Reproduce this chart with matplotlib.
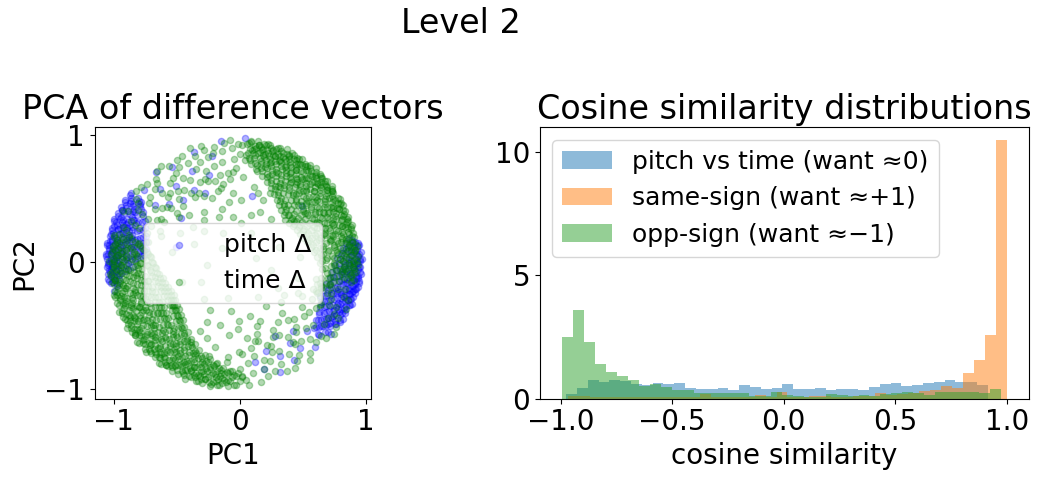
import numpy as np
import matplotlib
matplotlib.use("Agg")
import matplotlib.pyplot as plt

# ---- PCA scatter, points as (angle in deg, radius)
# measured from the centre of the ring
ring_cx, ring_cy = -0.045, -0.01

pitch_left = [
    (150, 0.95), (153, 0.90), (155, 0.98), (157, 0.86), (159, 0.94), (161, 0.99), (162, 0.89),
    (164, 0.96), (165, 0.92), (167, 1.00), (168, 0.87), (169, 0.95), (170, 0.98), (171, 0.91),
    (172, 1.00), (173, 0.94), (174, 0.97), (175, 0.89), (176, 1.00), (177, 0.93), (178, 0.98),
    (179, 0.95), (180, 1.00), (181, 0.91), (182, 0.97), (183, 0.99), (184, 0.94), (185, 1.00),
    (186, 0.96), (188, 0.92), (189, 0.99), (191, 0.95), (193, 0.98), (166, 0.84), (160, 0.91),
    (178, 0.86), (171, 0.83), (158, 0.97), (163, 1.00), (176, 0.95),
]
# dense left band of pitch points, angle -> radii
pitch_left_rows = {
    146: [0.92, 0.99], 148: [0.88, 0.96], 150: [0.85, 0.93, 1.00], 152: [0.90, 0.97],
    154: [0.86, 0.94, 1.00], 156: [0.80, 0.89, 0.96], 158: [0.84, 0.92, 0.99],
    160: [0.77, 0.88, 0.95, 1.01], 162: [0.81, 0.85, 0.92, 0.98], 164: [0.75, 0.89, 0.96, 1.01],
    166: [0.79, 0.86, 0.93, 0.99], 168: [0.74, 0.83, 0.90, 0.96, 1.01],
    170: [0.78, 0.87, 0.94, 1.00], 172: [0.73, 0.82, 0.91, 0.97, 1.02],
    174: [0.77, 0.88, 0.95, 1.00], 176: [0.74, 0.83, 0.92, 0.98, 1.02],
    178: [0.79, 0.89, 0.95, 1.01], 180: [0.84, 0.93, 0.99], 182: [0.80, 0.90, 0.96, 1.01],
    184: [0.87, 0.94, 0.99], 186: [0.92, 0.98], 188: [0.96, 1.00], 190: [0.94],
}
pitch_left_rows_b = {
    147: [0.90, 0.98], 149: [0.87, 0.95], 151: [0.83, 0.92, 0.99], 153: [0.81, 0.88, 0.96],
    155: [0.78, 0.91, 0.98], 157: [0.83, 0.87, 1.00], 159: [0.76, 0.90, 0.97],
    161: [0.80, 0.86, 0.93, 1.01], 163: [0.73, 0.87, 0.95], 165: [0.77, 0.84, 0.91, 1.00],
    167: [0.72, 0.81, 0.88, 0.97], 169: [0.76, 0.85, 0.92, 0.99],
    171: [0.71, 0.80, 0.89, 0.96, 1.02], 173: [0.75, 0.86, 0.93, 1.00],
    175: [0.72, 0.81, 0.90, 0.97], 177: [0.77, 0.86, 0.94, 1.02], 179: [0.82, 0.91, 0.98],
    181: [0.86, 0.94, 1.00], 183: [0.84, 0.92, 0.98], 185: [0.90, 0.97], 187: [0.94, 1.01],
    189: [0.97],
}
pitch_upper = [
    (102, 0.86), (106, 0.72), (110, 0.93), (115, 0.80), (119, 0.66), (123, 0.90), (127, 0.76),
    (131, 0.95), (135, 0.83), (138, 0.70), (141, 0.92), (144, 0.78), (147, 0.88), (113, 0.60),
    (129, 0.64), (96, 0.97), (85, 0.99), (140, 0.55), (75, 0.55), (165, 0.48),
]
pitch_right = [
    (10, 0.96), (8, 0.99), (6, 0.93), (4, 0.97), (2, 1.00), (1, 0.94), (0, 0.98), (-1, 0.91),
    (-2, 0.99), (-3, 0.95), (-4, 1.00), (-5, 0.92), (-6, 0.97), (-7, 0.99), (-8, 0.94), (-9, 1.00),
    (-10, 0.90), (-11, 0.96), (-12, 0.98), (-13, 0.93), (-14, 0.99), (-15, 0.95), (-16, 0.88),
    (-17, 0.97), (-18, 0.93), (-20, 0.98), (-21, 0.90), (-23, 0.95), (-25, 0.92), (-27, 0.97),
    (-29, 0.89), (-31, 0.94), (-33, 0.91), (-36, 0.95), (-5, 0.86), (-15, 0.84),
]
pitch_right_rows = {
    12: [0.93], 10: [0.90, 0.97], 8: [0.87, 0.94, 1.00], 6: [0.91, 0.98],
    4: [0.85, 0.93, 0.99], 2: [0.89, 0.96, 1.01], 0: [0.83, 0.91, 0.97], -2: [0.87, 0.94, 1.00],
    -4: [0.81, 0.89, 0.96], -6: [0.85, 0.92, 0.99], -8: [0.79, 0.88, 0.95, 1.00],
    -10: [0.84, 0.91, 0.97], -12: [0.78, 0.86, 0.93, 0.99], -14: [0.82, 0.90, 0.96],
    -16: [0.77, 0.85, 0.92, 0.98], -18: [0.81, 0.89, 0.95], -20: [0.76, 0.84, 0.91, 0.97],
    -22: [0.80, 0.88, 0.94], -24: [0.75, 0.83, 0.90, 0.96], -26: [0.79, 0.87, 0.93],
    -28: [0.82, 0.89, 0.95], -30: [0.78, 0.86, 0.92], -32: [0.84, 0.90], -34: [0.80, 0.88],
    -36: [0.85, 0.92], -38: [0.82], -40: [0.87],
}
pitch_right_rows_b = {
    11: [0.95], 9: [0.92, 0.99], 7: [0.89, 0.96], 5: [0.86, 0.95, 1.01], 3: [0.82, 0.91, 0.98],
    1: [0.86, 0.93, 1.00], -1: [0.80, 0.88, 0.95], -3: [0.84, 0.90, 0.98],
    -5: [0.78, 0.87, 0.94, 1.01], -7: [0.82, 0.91, 0.97], -9: [0.77, 0.86, 0.92, 0.98],
    -11: [0.80, 0.88, 0.95, 1.00], -13: [0.75, 0.84, 0.91, 0.97], -15: [0.79, 0.87, 0.94],
    -17: [0.74, 0.82, 0.90, 0.96], -19: [0.78, 0.86, 0.93, 0.99], -21: [0.73, 0.81, 0.88, 0.95],
    -23: [0.77, 0.85, 0.92], -25: [0.80, 0.87, 0.94], -27: [0.76, 0.84, 0.91],
    -29: [0.81, 0.88, 0.96], -31: [0.78, 0.85, 0.93], -33: [0.82, 0.89], -35: [0.79, 0.86],
    -37: [0.84, 0.90], -39: [0.81],
}
pitch_lower = [
    (-40, 0.88), (-43, 0.79), (-46, 0.92), (-49, 0.71), (-52, 0.85), (-55, 0.77), (-58, 0.90),
    (-61, 0.66), (-64, 0.82), (-67, 0.93), (-70, 0.74), (-74, 0.87), (-78, 0.80), (40, 0.70),
]

time_upper_right = [
    (-6, 0.93), (-4, 0.86), (-3, 0.95), (-1, 0.79), (0, 0.91), (1, 0.97), (2, 0.84), (3, 0.74),
    (4, 0.93), (5, 0.88), (6, 0.96), (7, 0.81), (8, 0.91), (9, 0.71), (10, 0.95), (11, 0.86),
    (12, 0.92), (13, 0.78), (14, 0.97), (15, 0.89), (16, 0.83), (17, 0.94), (18, 0.75), (19, 0.90),
    (20, 0.96), (21, 0.85), (22, 0.92), (23, 0.80), (24, 0.95), (25, 0.88), (26, 0.72), (27, 0.93),
    (28, 0.84), (29, 0.97), (30, 0.90), (31, 0.78), (32, 0.94), (33, 0.86), (34, 0.91), (35, 0.69),
    (36, 0.96), (37, 0.82), (38, 0.93), (39, 0.88), (40, 0.76), (41, 0.95), (42, 0.85), (43, 0.91),
    (44, 0.97), (45, 0.80), (46, 0.89), (47, 0.94), (48, 0.73), (49, 0.92), (50, 0.86), (51, 0.96),
    (52, 0.81), (53, 0.90), (54, 0.95), (55, 0.77), (56, 0.88), (57, 0.93), (58, 0.84), (59, 0.97),
    (60, 0.70), (61, 0.91), (62, 0.86), (63, 0.95), (64, 0.79), (65, 0.92), (66, 0.88), (67, 0.96),
    (68, 0.74), (69, 0.90), (70, 0.85), (71, 0.94), (72, 0.80), (73, 0.97), (74, 0.89), (75, 0.83),
    (76, 0.93), (77, 0.76), (78, 0.95), (79, 0.87), (80, 0.91), (82, 0.96), (84, 0.82), (86, 0.93),
]
time_upper_right_rows = {
    -8: [0.80, 0.90, 0.96], -6: [0.74, 0.86], -4: [0.70, 0.82, 0.90, 0.97], -2: [0.77, 0.87, 0.94],
    0: [0.68, 0.79, 0.88, 0.95], 2: [0.73, 0.84, 0.91, 0.97], 4: [0.66, 0.78, 0.87, 0.94],
    6: [0.71, 0.82, 0.90, 0.96], 8: [0.64, 0.76, 0.85, 0.93, 0.98], 10: [0.69, 0.80, 0.89, 0.95],
    12: [0.62, 0.74, 0.83, 0.91, 0.97], 14: [0.67, 0.78, 0.87, 0.94],
    16: [0.60, 0.72, 0.81, 0.89, 0.96], 18: [0.65, 0.76, 0.85, 0.92, 0.98],
    20: [0.58, 0.70, 0.80, 0.88, 0.95], 22: [0.63, 0.75, 0.84, 0.91, 0.97],
    24: [0.57, 0.69, 0.78, 0.86, 0.93], 26: [0.62, 0.73, 0.82, 0.90, 0.96],
    28: [0.56, 0.67, 0.77, 0.85, 0.92, 0.98], 30: [0.60, 0.71, 0.81, 0.89, 0.95],
    32: [0.55, 0.66, 0.76, 0.84, 0.91, 0.97], 34: [0.59, 0.70, 0.79, 0.87, 0.94],
    36: [0.54, 0.65, 0.75, 0.83, 0.90, 0.96], 38: [0.58, 0.69, 0.78, 0.86, 0.93, 0.98],
    40: [0.53, 0.64, 0.74, 0.82, 0.89, 0.95], 42: [0.57, 0.68, 0.77, 0.85, 0.92, 0.97],
    44: [0.55, 0.66, 0.76, 0.84, 0.91, 0.96], 46: [0.59, 0.70, 0.79, 0.87, 0.93, 0.98],
    48: [0.56, 0.67, 0.77, 0.85, 0.92, 0.97], 50: [0.61, 0.72, 0.81, 0.88, 0.95],
    52: [0.58, 0.69, 0.79, 0.86, 0.93, 0.98], 54: [0.63, 0.74, 0.83, 0.90, 0.96],
    56: [0.60, 0.71, 0.80, 0.88, 0.94], 58: [0.66, 0.76, 0.85, 0.92, 0.97],
    60: [0.63, 0.73, 0.82, 0.89, 0.95], 62: [0.69, 0.79, 0.87, 0.93, 0.98],
    64: [0.66, 0.76, 0.85, 0.91, 0.96], 66: [0.72, 0.81, 0.89, 0.95],
    68: [0.69, 0.79, 0.87, 0.93, 0.98], 70: [0.75, 0.84, 0.91, 0.96], 72: [0.72, 0.82, 0.89, 0.95],
    74: [0.78, 0.87, 0.93, 0.98], 76: [0.75, 0.85, 0.92, 0.97], 78: [0.81, 0.89, 0.95],
    80: [0.79, 0.88, 0.94], 82: [0.84, 0.91, 0.97], 84: [0.86, 0.94],
}
time_upper_right_rows_b = {
    -7: [0.84, 0.93], -5: [0.77, 0.95], -3: [0.72, 0.88], -1: [0.83, 0.92, 0.98],
    1: [0.70, 0.86, 0.94], 3: [0.79, 0.89, 0.98], 5: [0.69, 0.83, 0.95], 7: [0.75, 0.87, 0.93],
    9: [0.66, 0.80, 0.92, 0.97], 11: [0.72, 0.84, 0.90], 13: [0.64, 0.79, 0.88, 0.96],
    15: [0.70, 0.81, 0.93], 17: [0.62, 0.75, 0.86, 0.97], 19: [0.68, 0.80, 0.90, 0.94],
    21: [0.61, 0.77, 0.84, 0.96], 23: [0.66, 0.71, 0.88, 0.94], 25: [0.60, 0.74, 0.83, 0.97],
    27: [0.65, 0.78, 0.88, 0.93], 29: [0.59, 0.72, 0.81, 0.90, 0.96], 31: [0.63, 0.75, 0.86, 0.98],
    33: [0.57, 0.70, 0.80, 0.93], 35: [0.62, 0.74, 0.88, 0.96], 37: [0.56, 0.68, 0.80, 0.92, 0.97],
    39: [0.61, 0.73, 0.83, 0.95], 41: [0.58, 0.70, 0.79, 0.91, 0.98], 43: [0.62, 0.72, 0.88, 0.94],
    45: [0.57, 0.69, 0.81, 0.90, 0.97], 47: [0.63, 0.75, 0.83, 0.95],
    49: [0.60, 0.71, 0.80, 0.89, 0.99], 51: [0.64, 0.77, 0.85, 0.93], 53: [0.61, 0.72, 0.83, 0.96],
    55: [0.67, 0.78, 0.86, 0.94], 57: [0.64, 0.73, 0.81, 0.90, 0.98], 59: [0.70, 0.80, 0.88, 0.95],
    61: [0.67, 0.76, 0.84, 0.97], 63: [0.73, 0.83, 0.90, 0.96], 65: [0.70, 0.79, 0.88, 0.99],
    67: [0.76, 0.85, 0.92], 69: [0.73, 0.82, 0.90, 0.97], 71: [0.79, 0.87, 0.93],
    73: [0.76, 0.85, 0.91], 75: [0.81, 0.88, 0.96], 77: [0.79, 0.90, 0.94], 79: [0.84, 0.92, 0.98],
    81: [0.82, 0.90], 83: [0.87, 0.95],
}
# green points lying over the inner side of the right pitch band
time_right_rows = {
    -9: [0.75], -10: [0.70, 0.80], -11: [0.66], -12: [0.74], -13: [0.77], -14: [0.68, 0.79],
    -15: [0.71], -16: [0.72], -17: [0.80], -18: [0.66, 0.77], -19: [0.69], -20: [0.70],
    -22: [0.73], -25: [0.68],
}
time_lower_left = [
    (170, 0.94), (172, 0.86), (173, 0.97), (175, 0.80), (176, 0.92), (177, 0.88), (179, 0.95),
    (180, 0.74), (181, 0.90), (183, 0.96), (184, 0.84), (185, 0.92), (187, 0.78), (188, 0.95),
    (189, 0.87), (191, 0.93), (192, 0.70), (193, 0.89), (195, 0.96), (196, 0.82), (197, 0.91),
    (199, 0.86), (200, 0.94), (201, 0.76), (203, 0.97), (204, 0.88), (205, 0.83), (207, 0.93),
    (208, 0.79), (209, 0.90), (211, 0.95), (212, 0.85), (213, 0.72), (215, 0.92), (216, 0.97),
    (217, 0.81), (219, 0.89), (220, 0.94), (221, 0.86), (223, 0.77), (224, 0.92), (225, 0.96),
    (227, 0.84), (228, 0.90), (229, 0.74), (231, 0.95), (232, 0.87), (233, 0.93), (235, 0.80),
    (236, 0.97), (237, 0.89), (239, 0.83), (240, 0.94), (241, 0.71), (243, 0.91), (244, 0.86),
    (245, 0.96), (247, 0.79), (248, 0.92), (249, 0.88), (251, 0.95), (252, 0.82), (253, 0.90),
    (255, 0.76), (256, 0.94), (257, 0.86), (259, 0.97), (260, 0.81), (261, 0.91), (263, 0.87),
    (264, 0.95), (266, 0.78), (267, 0.92), (269, 0.85), (271, 0.96), (274, 0.89),
]
time_lower_left_rows = {
    166: [0.86, 0.94], 168: [0.80, 0.90, 0.97], 170: [0.76, 0.86, 0.93],
    172: [0.72, 0.83, 0.91, 0.97], 174: [0.69, 0.80, 0.89, 0.95],
    176: [0.66, 0.77, 0.86, 0.93, 0.98], 178: [0.70, 0.81, 0.89, 0.96],
    180: [0.64, 0.75, 0.84, 0.92, 0.97], 182: [0.68, 0.79, 0.88, 0.95],
    184: [0.62, 0.73, 0.83, 0.91, 0.97], 186: [0.66, 0.77, 0.86, 0.93, 0.98],
    188: [0.60, 0.71, 0.81, 0.89, 0.95], 190: [0.64, 0.75, 0.84, 0.92, 0.97],
    192: [0.58, 0.70, 0.79, 0.87, 0.94], 194: [0.62, 0.73, 0.83, 0.90, 0.96],
    196: [0.57, 0.68, 0.78, 0.86, 0.93, 0.98], 198: [0.61, 0.72, 0.81, 0.89, 0.95],
    200: [0.56, 0.67, 0.77, 0.85, 0.92, 0.97], 202: [0.60, 0.71, 0.80, 0.88, 0.94],
    204: [0.55, 0.66, 0.76, 0.84, 0.91, 0.97], 206: [0.59, 0.70, 0.79, 0.87, 0.93, 0.98],
    208: [0.54, 0.65, 0.75, 0.83, 0.90, 0.96], 210: [0.58, 0.69, 0.78, 0.86, 0.92, 0.97],
    212: [0.55, 0.66, 0.76, 0.84, 0.91, 0.96], 214: [0.59, 0.70, 0.79, 0.87, 0.93, 0.98],
    216: [0.56, 0.67, 0.77, 0.85, 0.92, 0.97], 218: [0.60, 0.71, 0.80, 0.88, 0.94],
    220: [0.57, 0.68, 0.78, 0.86, 0.93, 0.98], 222: [0.61, 0.72, 0.81, 0.89, 0.95],
    224: [0.59, 0.70, 0.79, 0.87, 0.93, 0.98], 226: [0.63, 0.74, 0.83, 0.90, 0.96],
    228: [0.61, 0.72, 0.81, 0.88, 0.94], 230: [0.66, 0.76, 0.85, 0.92, 0.97],
    232: [0.64, 0.74, 0.83, 0.90, 0.95], 234: [0.68, 0.78, 0.87, 0.93, 0.98],
    236: [0.66, 0.77, 0.85, 0.92, 0.97], 238: [0.71, 0.81, 0.89, 0.95],
    240: [0.69, 0.79, 0.87, 0.93, 0.98], 242: [0.73, 0.83, 0.90, 0.96],
    244: [0.71, 0.81, 0.89, 0.95], 246: [0.76, 0.85, 0.92, 0.97], 248: [0.74, 0.84, 0.91, 0.96],
    250: [0.78, 0.87, 0.94], 252: [0.76, 0.86, 0.93, 0.98], 254: [0.80, 0.89, 0.95],
    256: [0.78, 0.88, 0.94], 258: [0.82, 0.90, 0.96], 260: [0.80, 0.89, 0.95],
    262: [0.84, 0.92, 0.97], 264: [0.83, 0.91], 266: [0.86, 0.94], 268: [0.85, 0.93],
    270: [0.88, 0.96], 272: [0.87], 274: [0.90],
}
time_lower_left_rows_b = {
    167: [0.83, 0.91, 0.98], 169: [0.78, 0.88, 0.95], 171: [0.74, 0.81, 0.96],
    173: [0.70, 0.86, 0.93], 175: [0.67, 0.78, 0.90, 0.97], 177: [0.72, 0.84, 0.94],
    179: [0.65, 0.79, 0.87, 0.99], 181: [0.69, 0.77, 0.90, 0.95], 183: [0.63, 0.76, 0.86, 0.94],
    185: [0.67, 0.80, 0.89, 0.99], 187: [0.62, 0.74, 0.84, 0.96], 189: [0.66, 0.78, 0.92, 0.98],
    191: [0.60, 0.73, 0.82, 0.90], 193: [0.64, 0.76, 0.88, 0.97],
    195: [0.59, 0.71, 0.81, 0.92, 0.99], 197: [0.63, 0.75, 0.84, 0.95],
    199: [0.58, 0.69, 0.79, 0.91, 0.98], 201: [0.62, 0.73, 0.87, 0.93],
    203: [0.57, 0.68, 0.80, 0.89, 0.99], 205: [0.61, 0.74, 0.82, 0.95],
    207: [0.56, 0.67, 0.81, 0.90, 0.97], 209: [0.60, 0.72, 0.85, 0.94],
    211: [0.57, 0.68, 0.79, 0.89, 0.99], 213: [0.61, 0.73, 0.82, 0.95],
    215: [0.58, 0.69, 0.81, 0.90, 0.96], 217: [0.62, 0.74, 0.83, 0.94],
    219: [0.59, 0.70, 0.82, 0.91, 0.99], 221: [0.64, 0.75, 0.84, 0.96],
    223: [0.61, 0.72, 0.86, 0.92], 225: [0.65, 0.77, 0.85, 0.99],
    227: [0.63, 0.70, 0.80, 0.93, 0.97], 229: [0.68, 0.79, 0.89, 0.95],
    231: [0.66, 0.73, 0.81, 0.92], 233: [0.70, 0.80, 0.88, 0.99], 235: [0.69, 0.75, 0.83, 0.95],
    237: [0.73, 0.84, 0.91, 0.97], 239: [0.72, 0.77, 0.86, 0.96], 241: [0.75, 0.85, 0.92],
    243: [0.74, 0.79, 0.88, 0.98], 245: [0.78, 0.87, 0.93], 247: [0.77, 0.82, 0.90, 0.99],
    249: [0.80, 0.88, 0.96], 251: [0.79, 0.84, 0.92], 253: [0.83, 0.93, 0.97],
    255: [0.81, 0.86, 0.91, 0.98], 257: [0.84, 0.92], 259: [0.83, 0.88, 0.99], 261: [0.86, 0.94],
    263: [0.85, 0.90, 0.97], 265: [0.88, 0.93], 267: [0.87, 0.97], 269: [0.90], 271: [0.89],
    273: [0.93],
}
time_upper_left = [
    (88, 0.94), (90, 0.82), (92, 0.97), (94, 0.71), (96, 0.89), (98, 0.63), (100, 0.93), (102, 0.78),
    (104, 0.86), (106, 0.96), (108, 0.68), (110, 0.90), (112, 0.80), (114, 0.58), (116, 0.94),
    (118, 0.74), (120, 0.87), (122, 0.65), (124, 0.92), (126, 0.83), (128, 0.72), (130, 0.95),
    (132, 0.61), (134, 0.88), (136, 0.79), (138, 0.93), (140, 0.69), (142, 0.85), (144, 0.96),
    (146, 0.76), (148, 0.90), (150, 0.64), (152, 0.83), (154, 0.94), (156, 0.72), (158, 0.88),
    (160, 0.80), (162, 0.93), (165, 0.86), (168, 0.77),
    (87, 0.86), (89, 0.75), (91, 0.91), (93, 0.66), (95, 0.95), (97, 0.80), (99, 0.70), (101, 0.88),
    (103, 0.58), (105, 0.92), (107, 0.76), (109, 0.84), (111, 0.97), (113, 0.69), (115, 0.87),
    (117, 0.62), (119, 0.93), (121, 0.78), (123, 0.85), (125, 0.70), (127, 0.96), (129, 0.81),
    (131, 0.67), (133, 0.91), (135, 0.74), (137, 0.86), (139, 0.60), (141, 0.95), (143, 0.72),
    (145, 0.82), (147, 0.93), (149, 0.68), (151, 0.87), (153, 0.77), (155, 0.97), (157, 0.64),
    (159, 0.84), (161, 0.73), (163, 0.90), (166, 0.70),
]
time_lower_right = [
    (276, 0.93), (278, 0.80), (281, 0.68), (283, 0.96), (286, 0.87), (288, 0.59), (291, 0.91),
    (293, 0.76), (296, 0.95), (298, 0.66), (301, 0.84), (303, 0.92), (306, 0.72), (308, 0.97),
    (311, 0.81), (313, 0.62), (316, 0.90), (318, 0.77), (321, 0.94), (323, 0.69), (326, 0.86),
    (328, 0.95), (331, 0.74), (333, 0.89), (336, 0.82), (338, 0.96), (341, 0.70), (343, 0.91),
    (346, 0.85), (348, 0.78), (351, 0.94), (353, 0.88), (356, 0.81), (358, 0.93),
    (273, 0.84), (275, 0.72), (277, 0.97), (280, 0.88), (282, 0.75), (285, 0.64), (287, 0.93),
    (290, 0.82), (292, 0.70), (295, 0.88), (297, 0.78), (300, 0.96), (302, 0.67), (305, 0.89),
    (307, 0.80), (310, 0.93), (312, 0.73), (315, 0.85), (317, 0.65), (320, 0.90), (322, 0.79),
    (325, 0.97), (327, 0.71), (330, 0.86), (332, 0.93), (335, 0.76), (337, 0.88), (340, 0.82),
    (342, 0.95), (345, 0.73), (347, 0.90), (350, 0.84), (352, 0.77), (355, 0.91), (357, 0.86),
]
time_inner = [
    (5, 0.52), (20, 0.38), (35, 0.58), (50, 0.45), (65, 0.55), (80, 0.32), (95, 0.48), (110, 0.25),
    (125, 0.41), (140, 0.57), (155, 0.35), (170, 0.50), (185, 0.22), (200, 0.44), (215, 0.59),
    (230, 0.37), (245, 0.51), (260, 0.28), (275, 0.46), (290, 0.53), (305, 0.33), (320, 0.48),
    (335, 0.56), (350, 0.30), (12, 0.18), (75, 0.62), (100, 0.60), (130, 0.15), (160, 0.62),
    (250, 0.63), (280, 0.60), (300, 0.61), (330, 0.40), (60, 0.27), (210, 0.30),
]
time_inner_rows = {
    63: [0.45, 0.62], 71: [0.40, 0.58], 84: [0.50, 0.68], 91: [0.36, 0.55, 0.72],
    103: [0.44, 0.66], 109: [0.38, 0.54, 0.70], 121: [0.47, 0.61], 133: [0.35, 0.52, 0.75],
    139: [0.43, 0.66], 151: [0.49, 0.70], 243: [0.42, 0.60], 257: [0.50, 0.68],
    266: [0.38, 0.57, 0.74], 273: [0.52, 0.70], 287: [0.44, 0.64, 0.80], 294: [0.50, 0.72],
    307: [0.42, 0.58, 0.78], 314: [0.55, 0.70], 327: [0.47, 0.64], 334: [0.60, 0.76],
    347: [0.52, 0.70],
}

# ---- cosine similarity histograms (density per bin)
pitch_time_range = (-0.975, 0.915)
pitch_time_dens = [0.20, 0.45, 0.77, 0.69, 0.77, 0.73, 0.58, 0.57, 0.65, 0.61,
                   0.65, 0.45, 0.41, 0.41, 0.45, 0.37, 0.57, 0.49, 0.41, 0.45,
                   0.61, 0.41, 0.41, 0.45, 0.37, 0.41, 0.41, 0.37, 0.49, 0.61,
                   0.65, 0.53, 0.57, 0.65, 0.69, 0.77, 0.69, 0.69, 0.57]
same_sign_range = (-0.966, 1.0)
same_sign_dens = [0.12, 0.12, 0.06, 0.08, 0.08, 0.08, 0.08, 0.06, 0.08, 0.08,
                  0.06, 0.06, 0.17, 0.08, 0.06, 0.06, 0.08, 0.16, 0.06, 0.28,
                  0.08, 0.06, 0.12, 0.12, 0.08, 0.06, 0.12, 0.10, 0.24, 0.15,
                  0.20, 0.25, 0.33, 0.37, 0.53, 0.45, 1.06, 1.59, 2.60, 10.5]
opp_sign_range = (-0.993, 0.975)
opp_sign_dens = [2.49, 3.58, 2.32, 1.42, 1.10, 0.93, 0.77, 0.53, 0.61, 0.49,
                 0.37, 0.37, 0.24, 0.24, 0.24, 0.24, 0.24, 0.12, 0.12, 0.28,
                 0.16, 0.12, 0.08, 0.08, 0.20, 0.16, 0.12, 0.16, 0.12, 0.20,
                 0.24, 0.27, 0.23, 0.16, 0.28, 0.28, 0.28, 0.26, 0.24, 0.41]


def rows(d):
    return [(a, r) for a, rs in d.items() for r in rs]


def to_xy(groups):
    pts = np.array([p for g in groups for p in g], dtype=float)
    th = np.deg2rad(pts[:, 0])
    return ring_cx + pts[:, 1] * np.cos(th), ring_cy + pts[:, 1] * np.sin(th)


def draw_hist(ax, rng, dens, label):
    dens = np.asarray(dens)
    edges = np.linspace(rng[0], rng[1], len(dens) + 1)
    centres = 0.5 * (edges[:-1] + edges[1:])
    ax.hist(centres, bins=edges, weights=dens, alpha=0.5, label=label)


fig = plt.figure(figsize=(10.4, 4.8), dpi=100)
fig.suptitle('Level 2', x=0.443, y=0.985, fontsize=24)

ax1 = fig.add_axes([0.0911, 0.1694, 0.2657, 0.5654])
px, py = to_xy([pitch_left, rows(pitch_left_rows), rows(pitch_left_rows_b), pitch_upper,
                pitch_right, rows(pitch_right_rows), rows(pitch_right_rows_b), pitch_lower])
tx, ty = to_xy([time_upper_right, rows(time_upper_right_rows), rows(time_upper_right_rows_b),
                rows(time_right_rows), time_lower_left, rows(time_lower_left_rows),
                rows(time_lower_left_rows_b), time_upper_left, time_lower_right,
                time_inner, rows(time_inner_rows)])
ax1.scatter(px, py, s=20, c='blue', alpha=0.3, label='pitch Δ')
ax1.scatter(tx, ty, s=20, c='green', alpha=0.3, label='time Δ')
ax1.set_xlim(-1.15, 1.04)
ax1.set_ylim(-1.08, 1.06)
ax1.set_xticks([-1, 0, 1])
ax1.set_yticks([-1, 0, 1])
ax1.tick_params(labelsize=20)
ax1.set_xlabel('PC1', fontsize=20)
ax1.set_ylabel('PC2', fontsize=20)
ax1.set_title('PCA of difference vectors', fontsize=24)
ax1.legend(loc='center', fontsize=18)

ax2 = fig.add_axes([0.5192, 0.1694, 0.4702, 0.5660])
draw_hist(ax2, pitch_time_range, pitch_time_dens, 'pitch vs time (want ≈0)')
draw_hist(ax2, same_sign_range, same_sign_dens, 'same-sign (want ≈+1)')
draw_hist(ax2, opp_sign_range, opp_sign_dens, 'opp-sign (want ≈−1)')
ax2.set_xticks([-1.0, -0.5, 0.0, 0.5, 1.0])
ax2.set_yticks([0, 5, 10])
ax2.tick_params(labelsize=20)
ax2.set_xlabel('cosine similarity', fontsize=20)
ax2.set_title('Cosine similarity distributions', fontsize=24)
ax2.legend(loc='upper left', fontsize=18)

fig.savefig('out.png', dpi=100)
